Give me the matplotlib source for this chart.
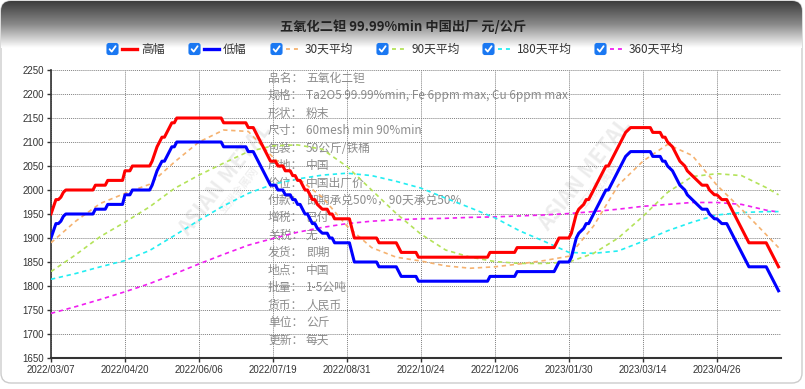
import numpy as np
import matplotlib
matplotlib.use('Agg')
import matplotlib.pyplot as plt
from matplotlib.patches import FancyBboxPatch
from matplotlib.colors import LinearSegmentedColormap

plt.rcParams['font.family'] = ['Noto Sans CJK SC', 'DejaVu Sans']

# daily price, run-length form: (price, number of trading days)
high_runs = [
    (1950, 1), (1965, 1), (1980, 2), (1985, 1), (1995, 1), (2000, 12), (2010, 5),
    (2020, 7), (2040, 3), (2050, 8), (2060, 1), (2075, 1), (2090, 1), (2100, 1),
    (2110, 2), (2120, 1), (2130, 1), (2140, 2), (2150, 19), (2140, 10), (2130, 3),
    (2120, 1), (2110, 1), (2100, 1), (2090, 1), (2080, 1), (2070, 1), (2060, 3),
    (2050, 3), (2040, 3), (2030, 2), (2020, 2), (2010, 1), (2000, 2), (1990, 1),
    (1980, 2), (1970, 1), (1965, 1), (1960, 3), (1950, 2), (1940, 7), (1920, 1),
    (1900, 10), (1890, 8), (1880, 1), (1870, 7), (1860, 29), (1870, 11), (1880, 16),
    (1890, 1), (1900, 5), (1910, 1), (1930, 1), (1950, 1), (1960, 1), (1965, 1),
    (1970, 1), (1980, 2), (1990, 1), (2000, 1), (2010, 1), (2020, 1), (2030, 1),
    (2040, 1), (2050, 2), (2060, 1), (2070, 1), (2080, 1), (2090, 1), (2100, 1),
    (2110, 1), (2120, 1), (2125, 1), (2130, 9), (2120, 4), (2110, 2), (2100, 1),
    (2095, 1), (2090, 1), (2080, 1), (2070, 1), (2060, 1), (2055, 1), (2050, 1),
    (2040, 1), (2035, 1), (2030, 1), (2025, 1), (2020, 1), (2015, 1), (2010, 3),
    (2000, 1), (1995, 1), (1990, 2), (1985, 1), (1980, 3), (1970, 1), (1960, 1),
    (1950, 1), (1940, 1), (1930, 1), (1920, 1), (1910, 1), (1900, 1), (1890, 8),
    (1880, 1), (1870, 1), (1860, 1), (1850, 1), (1840, 1),
]
low_runs = [
    (1900, 1), (1915, 1), (1930, 2), (1935, 1), (1945, 1), (1950, 12), (1960, 5),
    (1970, 7), (1990, 3), (2000, 8), (2010, 1), (2025, 1), (2040, 1), (2050, 1),
    (2060, 2), (2070, 1), (2080, 1), (2090, 2), (2100, 19), (2090, 10), (2080, 3),
    (2070, 1), (2060, 1), (2050, 1), (2040, 1), (2030, 1), (2020, 1), (2010, 3),
    (2000, 3), (1990, 3), (1980, 2), (1970, 2), (1960, 1), (1950, 2), (1940, 1),
    (1930, 2), (1920, 1), (1915, 1), (1910, 3), (1900, 2), (1890, 7), (1870, 1),
    (1850, 10), (1840, 8), (1830, 1), (1820, 7), (1810, 29), (1820, 11), (1830, 16),
    (1840, 1), (1850, 5), (1860, 1), (1880, 1), (1900, 1), (1910, 1), (1915, 1),
    (1920, 1), (1930, 2), (1940, 1), (1950, 1), (1960, 1), (1970, 1), (1980, 1),
    (1990, 1), (2000, 2), (2010, 1), (2020, 1), (2030, 1), (2040, 1), (2050, 1),
    (2060, 1), (2070, 1), (2075, 1), (2080, 9), (2070, 4), (2060, 2), (2050, 1),
    (2045, 1), (2040, 1), (2030, 1), (2020, 1), (2010, 1), (2005, 1), (2000, 1),
    (1990, 1), (1985, 1), (1980, 1), (1975, 1), (1970, 1), (1965, 1), (1960, 3),
    (1950, 1), (1945, 1), (1940, 2), (1935, 1), (1930, 3), (1920, 1), (1910, 1),
    (1900, 1), (1890, 1), (1880, 1), (1870, 1), (1860, 1), (1850, 1), (1840, 8),
    (1830, 1), (1820, 1), (1810, 1), (1800, 1), (1790, 1),
]

# moving averages read every 10 trading days
ma_days = [0, 10, 20, 30, 40, 50, 60, 70, 80, 90, 100, 110, 120, 130, 140, 150,
           160, 170, 180, 190, 200, 210, 220, 230, 240, 250, 260, 270, 280, 290, 295]
ma30 = [1890, 1935, 1972, 1993, 2012, 2058, 2100, 2125, 2122, 2068, 2025, 1985, 1925,
        1880, 1860, 1852, 1842, 1837, 1840, 1846, 1853, 1862, 1925, 2010, 2060, 2095,
        2072, 2010, 1960, 1907, 1880]
ma90 = [1830, 1865, 1903, 1933, 1965, 2003, 2031, 2056, 2080, 2092, 2094, 2085, 2049,
        2000, 1951, 1908, 1875, 1860, 1851, 1847, 1847, 1850, 1868, 1900, 1945, 1995,
        2028, 2034, 2030, 2005, 1990]
ma180 = [1814, 1826, 1840, 1853, 1874, 1905, 1937, 1967, 1993, 2012, 2023, 2031, 2035,
         2030, 2018, 2004, 1983, 1963, 1942, 1915, 1893, 1870, 1868, 1873, 1893, 1915,
         1933, 1948, 1953, 1955, 1955]
ma360 = [1743, 1757, 1772, 1788, 1805, 1825, 1846, 1866, 1885, 1899, 1912, 1922, 1930,
         1935, 1938, 1940, 1941, 1943, 1944, 1946, 1948, 1951, 1955, 1960, 1966, 1970,
         1974, 1974, 1970, 1958, 1954]

tick_days = [0, 30, 60, 90, 120, 150, 180, 210, 240, 270]
tick_labels = ['2022/03/07', '2022/04/20', '2022/06/06', '2022/07/19', '2022/08/31',
               '2022/10/24', '2022/12/06', '2023/01/30', '2023/03/14', '2023/04/26']

title = '五氧化二钽 99.99%min 中国出厂 元/公斤'
legend_names = ['高幅', '低幅', '30天平均', '90天平均', '180天平均', '360天平均']
colors = ['#ff0000', '#0000ff', '#f5b270', '#b4e35a', '#22eef2', '#f01ef0']

info_keys = ['品名：', '规格：', '形状：', '尺寸：', '包装：', '产地：', '价位：', '付款：',
             '增税：', '关税：', '发货：', '地点：', '批量：', '货币：', '单位：', '更新：']
info_vals = ['五氧化二钽', 'Ta2O5 99.99%min, Fe 6ppm max, Cu 6ppm max', '粉末',
             '60mesh min 90%min', '50公斤/铁桶', '中国', '中国出厂价',
             '即期承兑50%，90天承兑50%', '已付', '无', '即期', '中国', '1-5公吨',
             '人民币', '公斤', '每天']

high = np.repeat([v for v, n in high_runs], [n for v, n in high_runs])
low = np.repeat([v for v, n in low_runs], [n for v, n in low_runs])
days = np.arange(len(high))

fig = plt.figure(figsize=(8.05, 3.89), dpi=100)

# background layer in pixel coordinates
bg = fig.add_axes([0, 0, 1, 1], zorder=0)
card = FancyBboxPatch((1, 1), 801, 382, boxstyle='round,pad=0,rounding_size=10',
                      fc='white', ec='#cccccc', lw=1)
bg.add_patch(card)
cmap = LinearSegmentedColormap.from_list('hdr', ['#3d3d3d', '#8a8a8a', '#ffffff'])
grad = np.linspace(0, 1, 100).reshape(-1, 1)
im = bg.imshow(grad, extent=[1, 802, 48, 1], cmap=cmap, aspect='auto', zorder=1)
im.set_clip_path(card)
bg.set_xlim(0, 805)
bg.set_ylim(389, 0)
bg.axis('off')

bg.text(403, 27, title, ha='center', va='center', fontsize=9.5,
        fontweight='bold', color='#222222')

# legend with checkboxes
legend_x = [107, 189, 271, 377, 483, 595]
for k, x0 in enumerate(legend_x):
    box = FancyBboxPatch((x0, 43.5), 11, 11, boxstyle='round,pad=0,rounding_size=2',
                         fc='#1a78f2', ec='#1a78f2', lw=0.8, zorder=3)
    bg.add_patch(box)
    bg.plot([x0 + 2.6, x0 + 4.7, x0 + 8.6], [49.2, 51.6, 46.2], color='white',
            lw=1.3, solid_capstyle='round', zorder=4)
    ls = '-' if k < 2 else (0, (2.2, 2.2))
    lw = 2.4 if k < 2 else 1.3
    bg.plot([x0 + 15, x0 + 30], [49, 49], color=colors[k], lw=lw, ls=ls, zorder=3)
    bg.text(x0 + 34, 49, legend_names[k], ha='left', va='center', fontsize=8.5,
            color='#333333')

# watermark
for wx, wy in [(225, 180), (585, 175)]:
    bg.text(wx, wy, 'ASIAN METAL', rotation=52, ha='center', va='center',
            fontsize=15, fontweight='bold', color='#e0e0e0', alpha=0.6, zorder=1)
    bg.text(wx + 14, wy + 10, '亚洲金属网', rotation=52, ha='center', va='center',
            fontsize=8, color='#e0e0e0', alpha=0.6, zorder=1)

# product info block
for k in range(len(info_keys)):
    yy = 78.3 + k * 17.45
    bg.text(268, yy, info_keys[k], ha='left', va='center', fontsize=8.5,
            color='#8c8c8c', zorder=2)
    bg.text(306, yy, info_vals[k], ha='left', va='center', fontsize=8.5,
            color='#8c8c8c', zorder=2)

# main chart
ax = fig.add_axes([51 / 805, 31 / 389, 730 / 805, 288 / 389], zorder=1)
ax.patch.set_alpha(0)
ax.plot(ma_days, ma360, color=colors[5], lw=1.2, ls=(0, (2.6, 2.2)), zorder=3)
ax.plot(ma_days, ma180, color=colors[4], lw=1.2, ls=(0, (2.6, 2.2)), zorder=3)
ax.plot(ma_days, ma90, color=colors[3], lw=1.2, ls=(0, (2.6, 2.2)), zorder=3)
ax.plot(ma_days, ma30, color=colors[2], lw=1.2, ls=(0, (2.6, 2.2)), zorder=3)
ax.plot(days, low, color=colors[1], lw=2.2, zorder=4)
ax.plot(days, high, color=colors[0], lw=2.2, zorder=5)

ax.set_xlim(0, 296)
ax.set_ylim(1650, 2250)
ax.set_xticks(tick_days)
ax.set_xticklabels(tick_labels, fontfamily='Liberation Sans', fontsize=7, color='#333333')
yt = list(range(1650, 2251, 50))
ax.set_yticks(yt)
ax.set_yticklabels([str(v) for v in yt], fontfamily='Liberation Sans', fontsize=7,
                   color='#333333')
ax.tick_params(length=3, width=1, color='#333333', pad=2)
ax.grid(True, color='#808080', linestyle=(0, (1, 1)), lw=0.7)
for s in ['top', 'right']:
    ax.spines[s].set_visible(False)
ax.spines['left'].set_color('#333333')
ax.spines['bottom'].set_color('#333333')
ax.spines['left'].set_linewidth(1.2)
ax.spines['bottom'].set_linewidth(1.5)

fig.savefig('out.png', dpi=100)
